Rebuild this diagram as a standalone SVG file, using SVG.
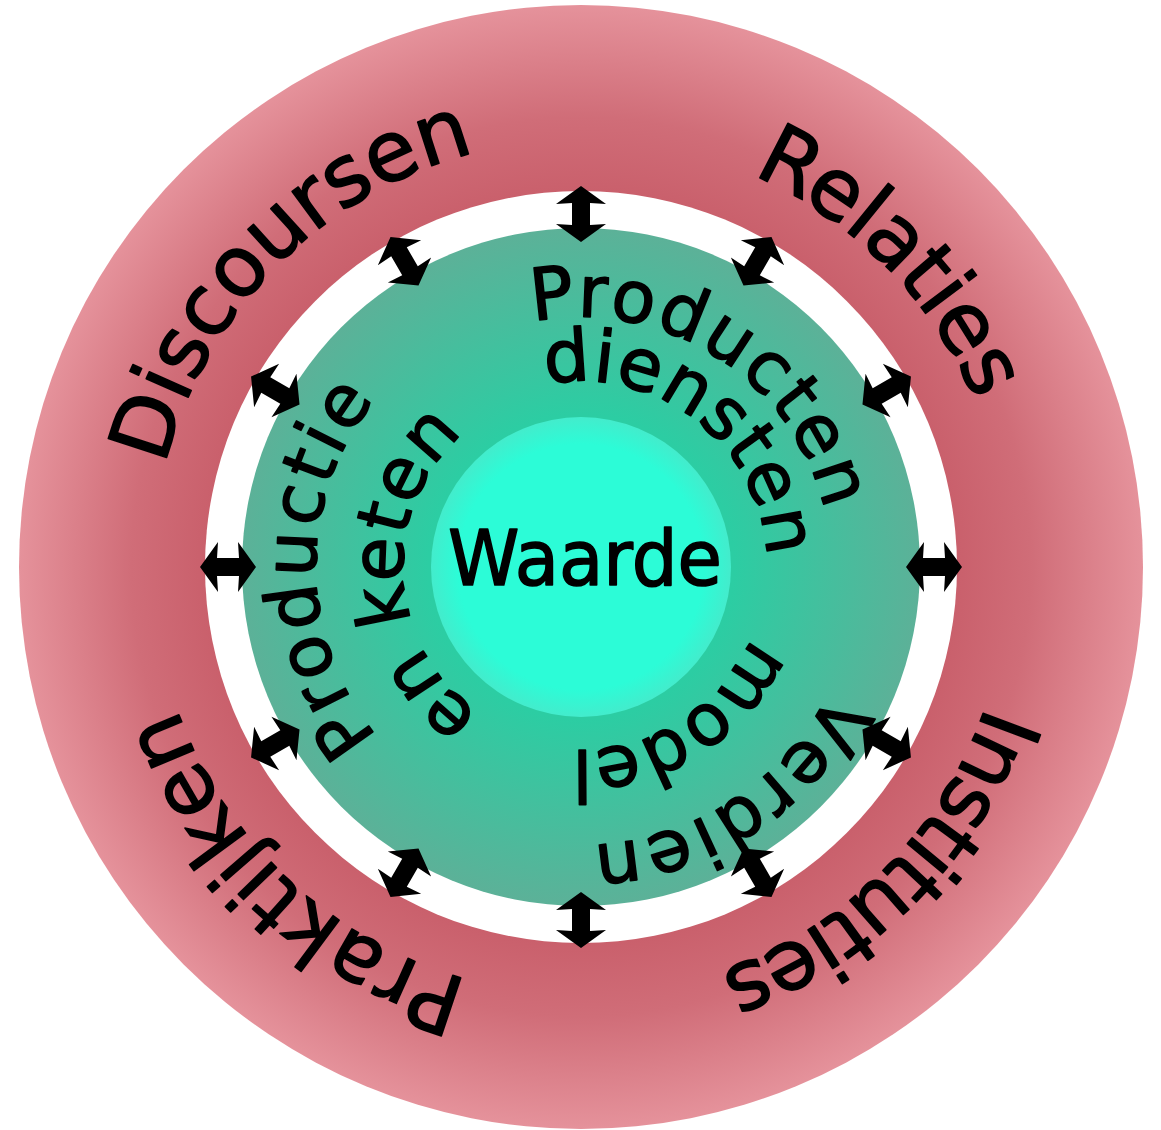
<svg xmlns="http://www.w3.org/2000/svg" width="1161" height="1130" viewBox="0 0 1161 1130">
<style>
.lbl{font-family:"DejaVu Sans",sans-serif;fill:#000;stroke:#000;stroke-width:1.6px;stroke-linejoin:round;}
.outer{font-size:84px;}
.inner{font-size:72px;}
</style>
<defs>
<radialGradient id="gRed" cx="581" cy="567" r="562" gradientUnits="userSpaceOnUse">
<stop offset="0.66" stop-color="#c95f6b"/>
<stop offset="0.8" stop-color="#d06d78"/>
<stop offset="1" stop-color="#e5929b"/>
</radialGradient>
<radialGradient id="gGreen" cx="581" cy="567" r="339" gradientUnits="userSpaceOnUse">
<stop offset="0.45" stop-color="#2ccda3"/>
<stop offset="1" stop-color="#5cb198"/>
</radialGradient>
<radialGradient id="gCyan" cx="581" cy="567" r="150" gradientUnits="userSpaceOnUse">
<stop offset="0.82" stop-color="#2cfcd7"/>
<stop offset="1" stop-color="#43eccc"/>
</radialGradient>
<path id="arrow" d="M0,-28 L25,-10 L9,-11 L9,11 L25,10 L0,28 L-25,10 L-9,11 L-9,-11 L-25,-10 Z"/>
<path id="p428" d="M153,567 A428,428 0 0 1 1009,567"/>
<path id="p250" d="M331,567 A250,250 0 0 1 831,567"/>
<path id="p186" d="M395,567 A186,186 0 0 1 767,567"/>
<path id="p278" d="M303,567 A278,278 0 0 1 859,567"/>
<path id="p183" d="M398,567 A183,183 0 0 1 764,567"/>
<path id="p265" d="M316,567 A265,265 0 0 1 846,567"/>
<path id="p178" d="M403,567 A178,178 0 0 1 759,567"/>
</defs>

<g id="ring-outer">
<circle cx="581" cy="567" r="562" fill="url(#gRed)"/>
<circle cx="581" cy="567" r="376" fill="#ffffff"/>
</g>
<g id="ring-green">
<circle cx="581" cy="567" r="339" fill="url(#gGreen)"/>
</g>
<g id="core">
<circle cx="581" cy="567" r="150" fill="url(#gCyan)"/>
<text class="lbl" x="585" y="585" font-size="76" text-anchor="middle" textLength="274" lengthAdjust="spacingAndGlyphs">Waarde</text>
</g>

<g id="label-discoursen" transform="rotate(314.7 581 567)">
<text class="lbl outer"><textPath href="#p428" startOffset="50%" text-anchor="middle" textLength="463" lengthAdjust="spacing">Discoursen</textPath></text>
</g>
<g id="label-relaties" transform="rotate(45.4 581 567)">
<text class="lbl outer"><textPath href="#p428" startOffset="50%" text-anchor="middle" textLength="326" lengthAdjust="spacing">Relaties</textPath></text>
</g>
<g id="label-instituties" transform="rotate(135 581 567)">
<text class="lbl outer"><textPath href="#p428" startOffset="50%" text-anchor="middle" textLength="390" lengthAdjust="spacing">Instituties</textPath></text>
</g>
<g id="label-praktijken" transform="rotate(223 581 567)">
<text class="lbl outer"><textPath href="#p428" startOffset="50%" text-anchor="middle" textLength="415" lengthAdjust="spacing">Praktijken</textPath></text>
</g>

<g id="label-producten" transform="rotate(32.9 581 567)">
<text class="lbl inner"><textPath href="#p250" startOffset="50%" text-anchor="middle" textLength="384" lengthAdjust="spacing">Producten</textPath></text>
</g>
<g id="label-diensten" transform="rotate(38 581 567)">
<text class="lbl inner"><textPath href="#p186" startOffset="50%" text-anchor="middle" textLength="318" lengthAdjust="spacing">diensten</textPath></text>
</g>
<g id="label-verdien" transform="rotate(147 581 567)">
<text class="lbl inner"><textPath href="#p278" startOffset="50%" text-anchor="middle" textLength="296" lengthAdjust="spacing">Verdien</textPath></text>
</g>
<g id="label-model" transform="rotate(147.5 581 567)">
<text class="lbl inner"><textPath href="#p183" startOffset="50%" text-anchor="middle" textLength="225" lengthAdjust="spacing">model</textPath></text>
</g>
<g id="label-productie" transform="rotate(269.6 581 567)">
<text class="lbl inner"><textPath href="#p265" startOffset="50%" text-anchor="middle" textLength="365" lengthAdjust="spacing">Productie</textPath></text>
</g>
<g id="label-enketen" transform="rotate(266.6 581 567)">
<text class="lbl inner"><textPath href="#p178" startOffset="50%" text-anchor="middle" textLength="323" lengthAdjust="spacing">en keten</textPath></text>
</g>

<g id="connectors" fill="#000">
<use href="#arrow" transform="translate(581 567) rotate(0) translate(0 -353)"/>
<use href="#arrow" transform="translate(581 567) rotate(30) translate(0 -353)"/>
<use href="#arrow" transform="translate(581 567) rotate(60) translate(0 -353)"/>
<use href="#arrow" transform="translate(581 567) rotate(90) translate(0 -353)"/>
<use href="#arrow" transform="translate(581 567) rotate(120) translate(0 -353)"/>
<use href="#arrow" transform="translate(581 567) rotate(150) translate(0 -353)"/>
<use href="#arrow" transform="translate(581 567) rotate(180) translate(0 -353)"/>
<use href="#arrow" transform="translate(581 567) rotate(210) translate(0 -353)"/>
<use href="#arrow" transform="translate(581 567) rotate(240) translate(0 -353)"/>
<use href="#arrow" transform="translate(581 567) rotate(270) translate(0 -353)"/>
<use href="#arrow" transform="translate(581 567) rotate(300) translate(0 -353)"/>
<use href="#arrow" transform="translate(581 567) rotate(330) translate(0 -353)"/>
</g>
</svg>
